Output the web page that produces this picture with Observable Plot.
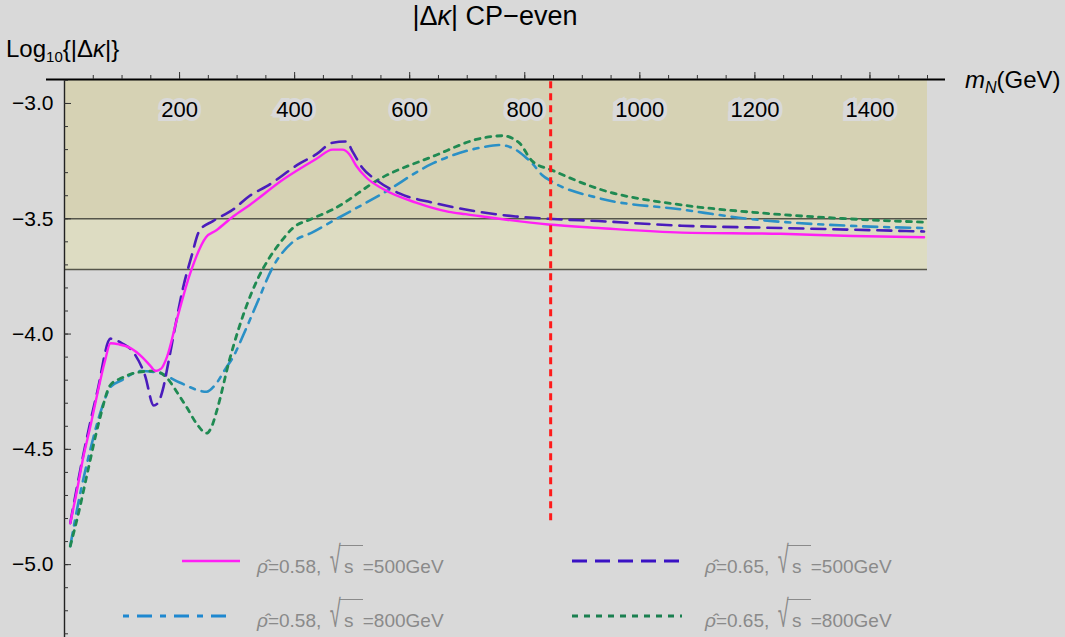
<!DOCTYPE html>
<html><head><meta charset="utf-8">
<script src="https://cdn.jsdelivr.net/npm/d3@7"></script>
<script src="https://cdn.jsdelivr.net/npm/@observablehq/plot@0.6"></script>
<style>
body{margin:0;background:#d9d9d9;font-family:"Liberation Sans",Arial,sans-serif;}
#wrap{position:relative;width:1065px;height:637px;background:#d9d9d9;overflow:hidden}
#wrap > svg{position:absolute;left:0;top:0}
.ov{position:absolute;white-space:nowrap;color:#000;line-height:1}
.leg{position:absolute;font-size:19px;color:#8a8a8a;white-space:nowrap;line-height:1}
.sw{position:absolute}
.rad{display:inline-block;transform:scale(1.05,2.0);transform-origin:50% 85%;margin-left:3px}
.rt{display:inline-block;border-top:1.3px solid #8a8a8a;padding-top:11px;padding-left:5px;padding-right:4px;margin-left:-1px;line-height:1}
</style></head><body>
<div id="wrap"></div>
<script>
// ---- tick values ----
const xMajor = [200, 400, 600, 800, 1000, 1200, 1400];
const xMinor = d3.range(1, 31).map(i => i * 50);
const yMajor = [-3.0, -3.5, -4.0, -4.5, -5.0];
const yMinor = d3.range(29, 54).map(i => -i / 10);
const bandEdges = [-3.5, -3.72];
const mNCut = [845];

// ---- series: rho=0.58, sqrt(s)=500 GeV (solid magenta) ----
const s1x = [10, 20, 33, 45, 57, 70, 80, 95, 114, 135, 150, 158, 168, 178, 195, 218, 246, 264, 293, 322, 380, 438, 466, 483, 495, 507, 524, 553, 611, 668, 697, 841, 928, 1073, 1245, 1370, 1494];
const s1y = [-4.82, -4.70, -4.53, -4.40, -4.26, -4.12, -4.04, -4.045, -4.06, -4.10, -4.14, -4.16, -4.15, -4.10, -3.94, -3.74, -3.58, -3.55, -3.49, -3.44, -3.33, -3.24, -3.20, -3.20, -3.22, -3.27, -3.32, -3.37, -3.43, -3.47, -3.48, -3.525, -3.54, -3.56, -3.565, -3.575, -3.58];
// ---- rho=0.65, sqrt(s)=500 GeV (dashed purple) ----
const s2x = [10, 33, 57, 80, 100, 120, 140, 155, 162, 172, 180, 193, 206, 220, 235, 258, 293, 322, 351, 409, 438, 466, 490, 501, 518, 541, 582, 640, 697, 784, 841, 928, 1073, 1245, 1494];
const s2y = [-4.82, -4.52, -4.25, -4.02, -4.04, -4.08, -4.18, -4.31, -4.30, -4.23, -4.13, -3.96, -3.80, -3.67, -3.55, -3.51, -3.46, -3.40, -3.36, -3.26, -3.22, -3.17, -3.165, -3.21, -3.28, -3.33, -3.39, -3.43, -3.46, -3.49, -3.50, -3.51, -3.53, -3.54, -3.555];
// ---- rho=0.58, sqrt(s)=800 GeV (dash-dot blue) ----
const s3x = [10, 25, 45, 65, 80, 100, 132, 166, 200, 247, 262, 280, 293, 315, 334, 362, 397, 430, 466, 553, 640, 726, 755, 784, 800, 813, 830, 848, 928, 1073, 1188, 1361, 1494];
const s3y = [-4.92, -4.72, -4.50, -4.32, -4.23, -4.20, -4.16, -4.17, -4.21, -4.25, -4.22, -4.15, -4.10, -3.98, -3.87, -3.71, -3.60, -3.56, -3.51, -3.39, -3.26, -3.19, -3.18, -3.20, -3.23, -3.26, -3.31, -3.34, -3.41, -3.46, -3.50, -3.53, -3.54];
// ---- rho=0.65, sqrt(s)=800 GeV (dotted green) ----
const s4x = [10, 25, 40, 60, 80, 100, 120, 155, 178, 195, 213, 230, 247, 256, 265, 287, 316, 336, 356, 376, 397, 430, 466, 553, 640, 726, 761, 790, 813, 848, 928, 1073, 1188, 1361, 1494];
const s4y = [-4.92, -4.77, -4.60, -4.38, -4.22, -4.19, -4.17, -4.16, -4.19, -4.25, -4.32, -4.39, -4.43, -4.40, -4.33, -4.11, -3.88, -3.76, -3.67, -3.60, -3.54, -3.50, -3.46, -3.32, -3.23, -3.15, -3.14, -3.17, -3.25, -3.29, -3.37, -3.44, -3.47, -3.50, -3.515];

const pts = (xs, ys) => xs.map((x, i) => ({x, y: ys[i]}));
const yTop = -2.896, yBot = -5.316;
const bg = "#d9d9d9";

const chart = Plot.plot({
  width: 1065, height: 637,
  marginLeft: 64, marginRight: 138, marginTop: 79, marginBottom: 0,
  style: {background: "transparent", fontFamily: "Liberation Sans, Arial, sans-serif", color: "#000", overflow: "visible"},
  x: {domain: [0, 1500], axis: null},
  y: {domain: [yBot, yTop], axis: null},
  marks: [
    Plot.rect([{y1: bandEdges[1], y2: yTop}], {x1: 0, x2: 1500, y1: "y1", y2: "y2", fill: "#dddcc2"}),
    Plot.rect([{y1: bandEdges[0], y2: yTop}], {x1: 0, x2: 1500, y1: "y1", y2: "y2", fill: "#d6d2b4"}),
    Plot.ruleY(bandEdges, {x1: 0, x2: 1500, stroke: "#55554a", strokeWidth: 1.4}),
    Plot.line(pts(s3x, s3y), {x: "x", y: "y", stroke: "#2a90c6", strokeWidth: 2.6, strokeDasharray: "14,7,5,7", curve: "monotone-x"}),
    Plot.line(pts(s4x, s4y), {x: "x", y: "y", stroke: "#1f8a52", strokeWidth: 2.8, strokeDasharray: "5,6", curve: "monotone-x"}),
    Plot.line(pts(s2x, s2y), {x: "x", y: "y", stroke: "#4a1cbc", strokeWidth: 2.6, strokeDasharray: "14,8", curve: "monotone-x"}),
    Plot.line(pts(s1x, s1y), {x: "x", y: "y", stroke: "#ff1ff5", strokeWidth: 2.4, curve: "monotone-x"}),
    Plot.ruleX(mNCut, {y1: -4.81, y2: yTop, stroke: "#ff1a1a", strokeWidth: 3, strokeDasharray: "7,5"}),
    // axes lines
    Plot.ruleX([0], {y1: yBot, y2: yTop, stroke: "#222", strokeWidth: 1.4}),
    Plot.ruleY([yTop], {x1: 0, x2: 1500, insetLeft: -18, insetRight: -18, stroke: "#000", strokeWidth: 2}),
    // x ticks pointing up
    Plot.ruleX(xMinor, {y1: yTop, y2: yTop, insetTop: -4, stroke: "#333", strokeWidth: 1}),
    Plot.ruleX(xMajor, {y1: yTop, y2: yTop, insetTop: -7, stroke: "#333", strokeWidth: 1}),
    // y ticks pointing right
    Plot.ruleY(yMinor, {x1: 0, x2: 0, insetRight: -4, stroke: "#333", strokeWidth: 1}),
    Plot.ruleY(yMajor, {x1: 0, x2: 0, insetRight: -7, stroke: "#333", strokeWidth: 1}),
    // tick labels
    Plot.text(yMajor, {y: d => d, frameAnchor: "left", dx: -11, textAnchor: "end", fontSize: 21, text: d => d3.format(".1f")(d), fill: "#000"}),
    Plot.text(xMajor, {x: d => d, frameAnchor: "top", dy: 22, fontSize: 22, text: d => String(d), fill: "#000", stroke: bg, strokeWidth: 8, strokeLinejoin: "miter"})
  ]
});
const wrap = document.getElementById("wrap");
wrap.appendChild(chart);

function add(html, cls, style) {
  const d = document.createElement("div");
  d.className = cls; d.innerHTML = html; d.setAttribute("style", style);
  wrap.appendChild(d);
}
add('|Δ<i>κ</i>| CP−even', "ov", "left:495px;top:3px;font-size:27px;transform:translateX(-50%)");
add('Log<sub style="font-size:15px;vertical-align:-5px">10</sub>{|Δ<i>κ</i>|}', "ov", "left:6px;top:37px;font-size:24px");
add('<i>m</i><sub style="font-size:16px;vertical-align:-5px"><i>N</i></sub>(GeV)', "ov", "left:965px;top:68px;font-size:24px");

const legend = [
  {label: "0.58", rs: "500", color: "#ff1ff5", dash: "", sx: 182, sw: 58, tx: 257, row: 0, w: 2.6},
  {label: "0.65", rs: "500", color: "#3a12c4", dash: "15,8", sx: 572, sw: 110, tx: 705, row: 0, w: 3},
  {label: "0.58", rs: "800", color: "#1e88d0", dash: "6,8,15,8", sx: 123, sw: 108, tx: 257, row: 1, w: 3},
  {label: "0.65", rs: "800", color: "#1a8050", dash: "6,6", sx: 572, sw: 110, tx: 705, row: 1, w: 3}
];
const rowLine = [561, 616], rowText = [545, 599];
for (const l of legend) {
  add(`<svg width="${l.sw}" height="8"><line x1="0" x2="${l.sw}" y1="4" y2="4" stroke="${l.color}" stroke-width="${l.w}" ${l.dash ? `stroke-dasharray="${l.dash}"` : ""}/></svg>`,
      "sw", `left:${l.sx}px;top:${rowLine[l.row] - 4}px;line-height:0`);
  add(`<i>ρ̂</i>=${l.label}, <span class="rad">√</span><span class="rt">s&nbsp;</span>=${l.rs}GeV`, "leg", `left:${l.tx}px;top:${rowText[l.row]}px`);
}
</script>
</body></html>
